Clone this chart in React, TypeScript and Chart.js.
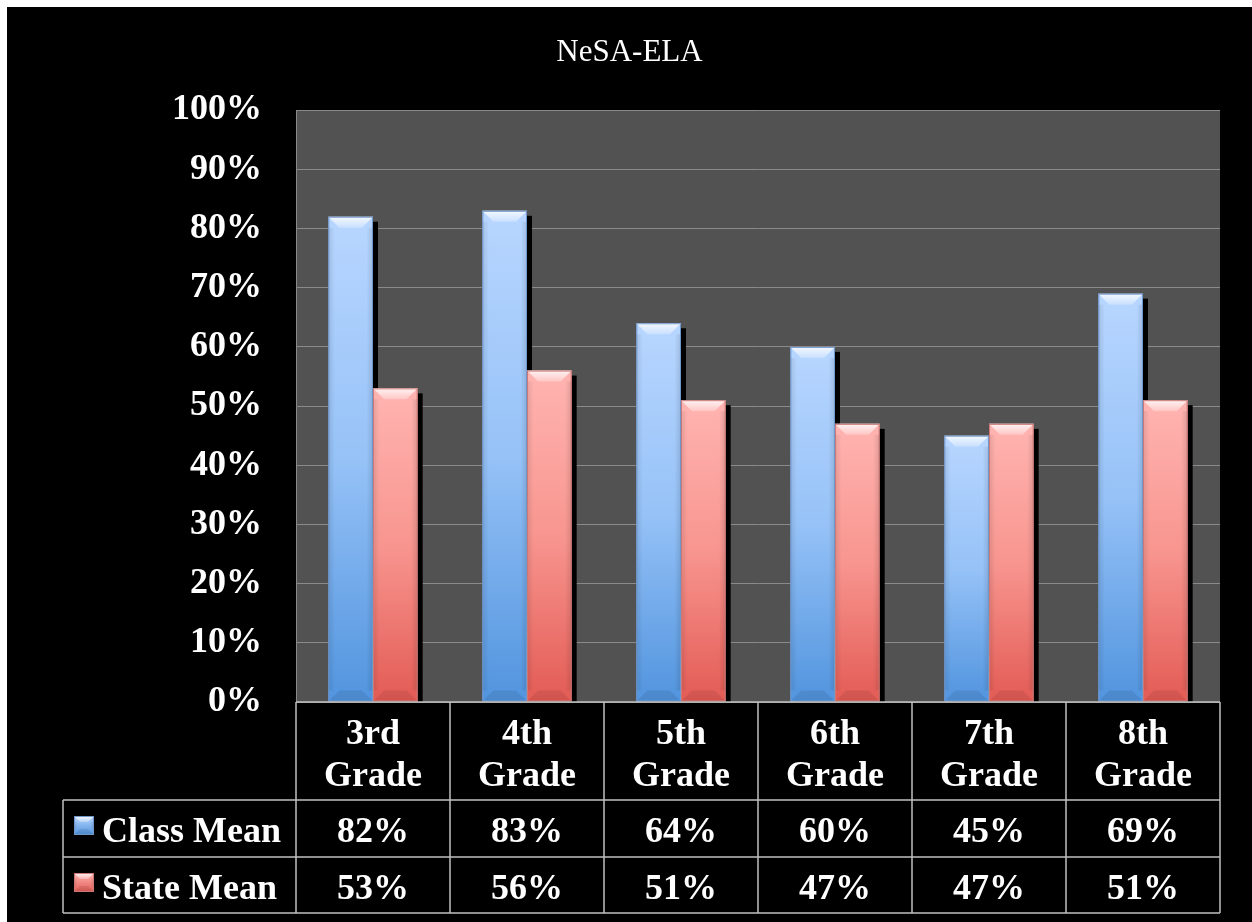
import React, { useEffect, useRef } from "react";
import { Chart, registerables } from "chart.js";

Chart.register(...registerables);

// ---- data ----
const TITLE = "NeSA-ELA";
const GRADE_LABELS = ["3rd Grade", "4th Grade", "5th Grade", "6th Grade", "7th Grade", "8th Grade"];
const SERIES_NAMES = ["Class Mean", "State Mean"];
const CLASS_MEAN = [82, 83, 64, 60, 45, 69];
const STATE_MEAN = [53, 56, 51, 47, 47, 51];
const Y_MIN = 0;
const Y_MAX = 100;
const Y_STEP = 10;

// ---- styles ----
const FONT = "'Times New Roman', 'Liberation Serif', Tinos, serif";
const BLUE = { top: "#b8d6ff", mid: "#96c2f7", bottom: "#5194de", edge: "#7097cc" };
const RED = { top: "#ffb4b1", mid: "#f8958f", bottom: "#e35b55", edge: "#c97a77" };
const PALETTES = [BLUE, RED];

type Pal = typeof BLUE;

function barGradient(c: any, pal: Pal) {
  const chart = c.chart;
  const area = chart.chartArea;
  if (!area || c.type !== "data" || !chart.scales || !chart.scales.y) return pal.mid;
  const ys = chart.scales.y;
  const v = c.parsed ? c.parsed.y : c.raw;
  const top = ys.getPixelForValue(v);
  const base = ys.getPixelForValue(0);
  if (!isFinite(top) || !isFinite(base) || base - top < 1) return pal.mid;
  const g = chart.ctx.createLinearGradient(0, top, 0, base);
  g.addColorStop(0, pal.top);
  g.addColorStop(0.5, pal.mid);
  g.addColorStop(1, pal.bottom);
  return g;
}

function drawBevel(ctx: CanvasRenderingContext2D, L: number, T: number, R: number, B: number, pal: Pal, size: number) {
  const w = R - L;
  const h = B - T;
  const bv = Math.max(0, Math.min(size, h / 2, w / 2 - 1));
  ctx.save();
  // top bevel (light)
  const gt = ctx.createLinearGradient(0, T, 0, T + bv);
  gt.addColorStop(0, "rgba(255,255,255,0.85)");
  gt.addColorStop(1, "rgba(255,255,255,0.25)");
  ctx.beginPath();
  ctx.moveTo(L, T);
  ctx.lineTo(R, T);
  ctx.lineTo(R - bv, T + bv);
  ctx.lineTo(L + bv, T + bv);
  ctx.closePath();
  ctx.fillStyle = gt;
  ctx.fill();
  // bottom bevel (dark)
  ctx.beginPath();
  ctx.moveTo(L, B);
  ctx.lineTo(R, B);
  ctx.lineTo(R - bv, B - bv);
  ctx.lineTo(L + bv, B - bv);
  ctx.closePath();
  ctx.fillStyle = "rgba(0,0,0,0.08)";
  ctx.fill();
  // side shading
  const sw = Math.min(bv * 0.6, w / 4);
  const gl = ctx.createLinearGradient(L, 0, L + sw, 0);
  gl.addColorStop(0, "rgba(0,0,0,0.10)");
  gl.addColorStop(1, "rgba(0,0,0,0)");
  ctx.fillStyle = gl;
  ctx.fillRect(L, T + bv, sw, Math.max(0, h - 2 * bv));
  const gr = ctx.createLinearGradient(R, 0, R - sw, 0);
  gr.addColorStop(0, "rgba(0,0,0,0.12)");
  gr.addColorStop(1, "rgba(0,0,0,0)");
  ctx.fillStyle = gr;
  ctx.fillRect(R - sw, T + bv, sw, Math.max(0, h - 2 * bv));
  // outline
  ctx.strokeStyle = pal.edge;
  ctx.lineWidth = 1;
  ctx.strokeRect(L + 0.5, T + 0.5, w - 1, h - 1);
  ctx.restore();
}

const decoPlugin = {
  id: "deco",
  beforeDraw(chart: any) {
    const { ctx, chartArea: a } = chart;
    ctx.save();
    ctx.fillStyle = "#000";
    ctx.fillRect(0, 0, chart.width, chart.height);
    ctx.fillStyle = "#525252";
    ctx.fillRect(a.left, a.top, a.right - a.left, a.bottom - a.top);
    ctx.restore();
  },
  beforeDatasetsDraw(chart: any) {
    const { ctx, chartArea: a } = chart;
    ctx.save();
    ctx.beginPath();
    ctx.rect(a.left, a.top, a.right - a.left, a.bottom - a.top);
    ctx.clip();
    ctx.fillStyle = "#000";
    chart.data.datasets.forEach((_d: any, di: number) => {
      const meta = chart.getDatasetMeta(di);
      meta.data.forEach((el: any) => {
        const p = el.getProps(["x", "y", "base", "width"], true);
        ctx.fillRect(p.x - p.width / 2 + 5, p.y + 5, p.width, p.base - p.y);
      });
    });
    ctx.restore();
  },
  afterDatasetDraw(chart: any, args: any) {
    const { ctx } = chart;
    const di = args.index;
    const pal = PALETTES[di % PALETTES.length];
    const meta = chart.getDatasetMeta(di);
    meta.data.forEach((el: any) => {
      const p = el.getProps(["x", "y", "base", "width"], true);
      drawBevel(ctx, p.x - p.width / 2, p.y, p.x + p.width / 2, p.base, pal, 11);
    });
  },
  afterDraw(chart: any) {
    const { ctx, chartArea: a } = chart;
    const xs = chart.scales.x;
    const n = GRADE_LABELS.length;
    const bounds: number[] = [a.left];
    for (let i = 0; i < n - 1; i++) {
      bounds.push((xs.getPixelForValue(i) + xs.getPixelForValue(i + 1)) / 2);
    }
    bounds.push(a.right);
    const headerTop = a.bottom;
    const headerBottom = headerTop + 98;
    const rowTops = [headerBottom, headerBottom + 57];
    const tableBottom = headerBottom + 57 + 56;
    const legendLeft = 56;

    ctx.save();
    ctx.strokeStyle = "#c0c0c0";
    ctx.lineWidth = 1.5;
    ctx.beginPath();
    ctx.moveTo(a.left, headerTop);
    ctx.lineTo(a.right, headerTop);
    [headerBottom, rowTops[1], tableBottom].forEach((yy) => {
      ctx.moveTo(legendLeft, yy);
      ctx.lineTo(a.right, yy);
    });
    ctx.moveTo(legendLeft, headerBottom);
    ctx.lineTo(legendLeft, tableBottom);
    bounds.forEach((bx) => {
      ctx.moveTo(bx, headerTop);
      ctx.lineTo(bx, tableBottom);
    });
    ctx.stroke();

    ctx.fillStyle = "#fff";
    ctx.font = `bold 36px ${FONT}`;
    ctx.textAlign = "center";
    ctx.textBaseline = "alphabetic";
    GRADE_LABELS.forEach((lab, i) => {
      const cx = (bounds[i] + bounds[i + 1]) / 2;
      const parts = lab.split(" ");
      parts.forEach((pt, li) => {
        ctx.fillText(pt, cx, headerTop + 42 + li * 41.7);
      });
    });

    const series = [CLASS_MEAN, STATE_MEAN];
    series.forEach((vals, si) => {
      const rt = rowTops[si];
      vals.forEach((v, i) => {
        const cx = (bounds[i] + bounds[i + 1]) / 2;
        ctx.textAlign = "center";
        ctx.fillText(`${v}%`, cx, rt + 42);
      });
      const pal = PALETTES[si];
      const kx = 67;
      const ky = rt + 16;
      const g = ctx.createLinearGradient(0, ky, 0, ky + 19);
      g.addColorStop(0, pal.top);
      g.addColorStop(1, pal.bottom);
      ctx.fillStyle = g;
      ctx.fillRect(kx, ky, 20, 19);
      drawBevel(ctx, kx, ky, kx + 20, ky + 19, pal, 6);
      ctx.fillStyle = "#fff";
      ctx.textAlign = "left";
      ctx.fillText(SERIES_NAMES[si], 95, rt + 42);
    });
    ctx.restore();
  },
};

export default function App() {
  const ref = useRef<HTMLCanvasElement | null>(null);

  useEffect(() => {
    if (!ref.current) return;
    const chart = new Chart(ref.current, {
      type: "bar",
      data: {
        labels: GRADE_LABELS,
        datasets: [
          {
            label: SERIES_NAMES[0],
            data: CLASS_MEAN,
            backgroundColor: (c: any) => barGradient(c, BLUE),
            borderWidth: 0,
          },
          {
            label: SERIES_NAMES[1],
            data: STATE_MEAN,
            backgroundColor: (c: any) => barGradient(c, RED),
            borderWidth: 0,
          },
        ],
      },
      options: {
        responsive: false,
        animation: false,
        devicePixelRatio: 1,
        datasets: {
          bar: { categoryPercentage: 0.58, barPercentage: 1 },
        },
        layout: { padding: { left: 32, right: 32, top: 0, bottom: 220 } },
        plugins: {
          legend: { display: false },
          tooltip: { enabled: false },
          title: {
            display: true,
            text: TITLE,
            color: "#ffffff",
            font: { family: FONT, size: 31, weight: "normal" },
            padding: { top: 27, bottom: 39 },
          },
        },
        scales: {
          x: { display: false },
          y: {
            min: Y_MIN,
            max: Y_MAX,
            afterFit: (s: any) => {
              s.width = 257;
            },
            ticks: {
              stepSize: Y_STEP,
              callback: (v: any) => `${v}%`,
              color: "#ffffff",
              font: { family: FONT, size: 36, weight: "bold" },
              padding: 34,
            },
            grid: { color: "#8a8a8a", drawTicks: false, lineWidth: 1 },
            border: { color: "#8a8a8a" },
          },
        },
      },
      plugins: [decoPlugin],
    } as any);
    return () => chart.destroy();
  }, []);

  return (
    <div style={{ position: "absolute", left: 7, top: 7, width: 1245, height: 915, background: "#000" }}>
      <canvas ref={ref} width={1245} height={915} style={{ display: "block", width: 1245, height: 915 }} />
    </div>
  );
}
